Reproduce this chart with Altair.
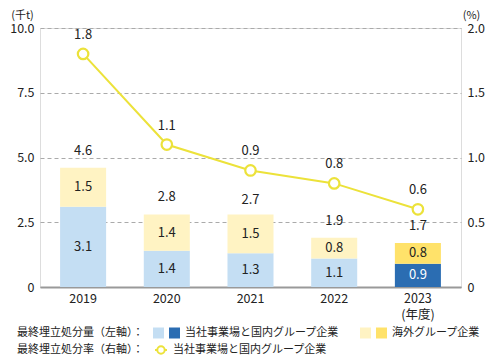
import altair as alt
import pandas as pd

years = ["2019", "2020", "2021", "2022", "2023"]
domestic = [3.1, 1.4, 1.3, 1.1, 0.9]
overseas = [1.5, 1.4, 1.5, 0.8, 0.8]
totals = [4.6, 2.8, 2.7, 1.9, 1.7]
rate = [1.8, 1.1, 0.9, 0.8, 0.6]

C_LB, C_DB, C_LY, C_Y = "#c4def3", "#2b6db2", "#fff3c3", "#ffe26a"
C_LINE = "#ece23a"
FONT = "Noto Sans CJK JP"

rows = []
for i, y in enumerate(years):
    last = y == "2023"
    rows.append(dict(year=y, cat="d", value=domestic[i], order=0,
                     color=C_DB if last else C_LB, mid=domestic[i] / 2,
                     tcolor="white" if last else "#222"))
    rows.append(dict(year=y, cat="o", value=overseas[i], order=1,
                     color=C_Y if last else C_LY, mid=domestic[i] + overseas[i] / 2,
                     tcolor="#222"))
bars_df = pd.DataFrame(rows)
tot_df = pd.DataFrame(dict(year=years, total=totals))
rate_df = pd.DataFrame(dict(year=years, rate=rate))

xenc = alt.X("year:N", title=None, sort=years,
             scale=alt.Scale(paddingInner=0.45, paddingOuter=0.24),
             axis=alt.Axis(labelExpr="datum.value == '2023' ? ['2023', '(年度)'] : datum.value",
                           labelAngle=0, labelFontSize=12.5, labelColor="#222",
                           labelPadding=5, labelLineHeight=16, ticks=False, domain=True,
                           domainColor="#999", domainWidth=2, labelFont=FONT))

lscale = alt.Scale(domain=[0, 10])
laxis = alt.Axis(values=[0, 2.5, 5, 7.5, 10],
                 labelExpr="datum.value == 0 ? '0' : format(datum.value, '.1f')",
                 grid=True, gridDash=[4, 3], gridColor="#aaa", domain=False, ticks=False,
                 labelFontSize=12.5, labelColor="#222", labelPadding=6, labelFont=FONT,
                 title="(千t)", titleAngle=0, titleX=-18, titleY=-19, titleAlign="center",
                 titleBaseline="top", titleFontWeight="normal", titleFontSize=11,
                 titleColor="#222", titleFont=FONT)

bars = alt.Chart(bars_df).mark_bar().encode(
    x=xenc,
    y=alt.Y("value:Q", stack="zero", scale=lscale, axis=laxis),
    color=alt.Color("color:N", scale=None),
    order=alt.Order("order:Q"),
)
seg_text = alt.Chart(bars_df).mark_text(fontSize=13, font=FONT, baseline="middle").encode(
    x=alt.X("year:N", sort=years),
    y=alt.Y("mid:Q", scale=lscale),
    text=alt.Text("value:Q", format=".1f"),
    color=alt.Color("tcolor:N", scale=None),
)
tot_text = alt.Chart(tot_df).mark_text(fontSize=13, font=FONT, baseline="middle", dy=-17,
                                       color="#222").encode(
    x=alt.X("year:N", sort=years),
    y=alt.Y("total:Q", scale=lscale),
    text=alt.Text("total:Q", format=".1f"),
)
left_layer = alt.layer(bars, seg_text, tot_text)

rscale = alt.Scale(domain=[0, 2])
raxis = alt.Axis(values=[0, 0.5, 1, 1.5, 2],
                 labelExpr="datum.value == 0 ? '0' : format(datum.value, '.1f')",
                 grid=False, domain=False, ticks=False, orient="right",
                 labelFontSize=12.5, labelColor="#222", labelPadding=6, labelFont=FONT,
                 title="(%)", titleAngle=0, titleX=10, titleY=-19, titleAlign="center",
                 titleBaseline="top", titleFontWeight="normal", titleFontSize=11,
                 titleColor="#222", titleFont=FONT)
line = alt.Chart(rate_df).mark_line(color=C_LINE, strokeWidth=2,
                                    point=alt.OverlayMarkDef(filled=True, fill="white",
                                                             stroke=C_LINE, strokeWidth=2.2,
                                                             size=110)).encode(
    x=alt.X("year:N", sort=years),
    y=alt.Y("rate:Q", scale=rscale, axis=raxis),
)
rate_text = alt.Chart(rate_df).mark_text(fontSize=13, font=FONT, baseline="middle", dy=-19,
                                         color="#222").encode(
    x=alt.X("year:N", sort=years),
    y=alt.Y("rate:Q", scale=rscale),
    text=alt.Text("rate:Q", format=".1f"),
)
right_layer = alt.layer(line, rate_text)

# legend
lg_labels = ["最終埋立処分量（左軸）：", "当社事業場と国内グループ企業", "海外グループ企業",
             "最終埋立処分率（右軸）：", "当社事業場と国内グループ企業"]
one = pd.DataFrame({"k": [0]})

def ltext(t, x, y):
    return alt.Chart(one).mark_text(text=t, align="left", baseline="middle", fontSize=11,
                                    font=FONT, color="#222").encode(
        x=alt.value(x), y=alt.value(y))

def lsq(c, x, y):
    return alt.Chart(one).mark_rect(color=c).encode(
        x=alt.value(x), x2=alt.value(x + 11), y=alt.value(y - 5.5), y2=alt.value(y + 5.5))

r1, r2 = 305, 322
legend = alt.layer(
    ltext(lg_labels[0], -23, r1),
    lsq(C_LB, 113, r1), lsq(C_DB, 129, r1),
    ltext(lg_labels[1], 145, r1),
    lsq(C_LY, 320, r1), lsq(C_Y, 336, r1),
    ltext(lg_labels[2], 352, r1),
    ltext(lg_labels[3], -23, r2),
    alt.Chart(one).mark_rule(color=C_LINE, strokeWidth=2).encode(
        x=alt.value(115), x2=alt.value(127), y=alt.value(r2)),
    alt.Chart(one).mark_point(shape="circle", filled=True, fill="white", stroke=C_LINE,
                              strokeWidth=2, size=55, opacity=1).encode(
        x=alt.value(121), y=alt.value(r2)),
    ltext(lg_labels[4], 133, r2),
)

chart = alt.layer(left_layer, right_layer, legend).resolve_scale(y="independent").properties(
    width=421, height=259,
    autosize=alt.AutoSizeParams(type="none"),
    padding={"left": 32, "top": 20, "right": 32, "bottom": 69},
).configure_view(stroke=None).configure(font=FONT)

chart.save("out.html", embed_options={"renderer": "svg", "actions": False})
